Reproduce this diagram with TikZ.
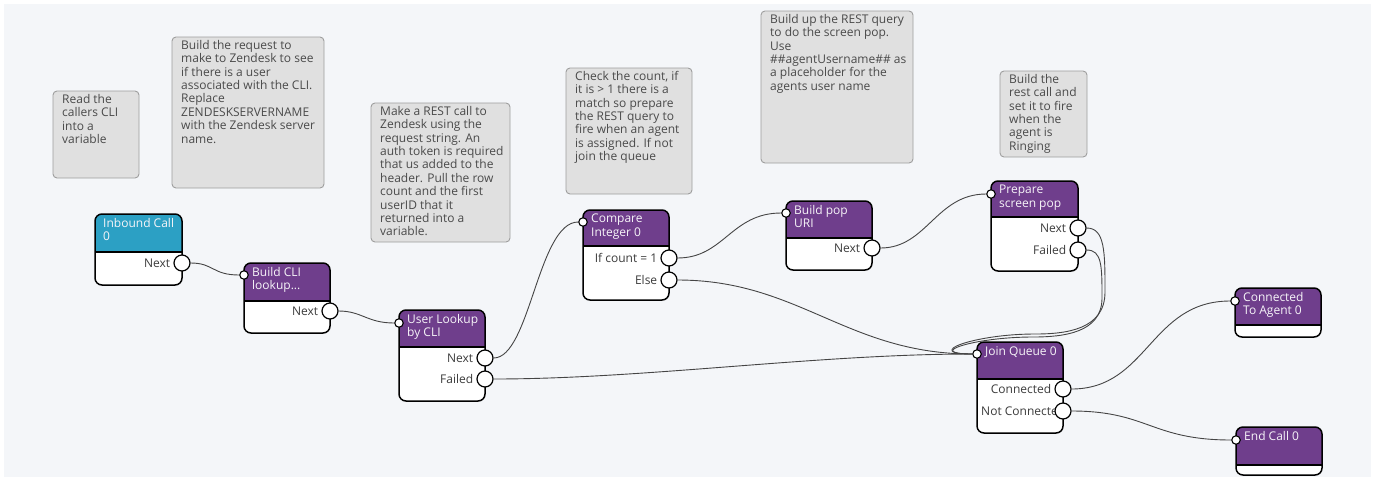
\documentclass[tikz,border=0pt]{standalone}
\usepackage{fontspec}
\setmainfont{Open Sans}
\usetikzlibrary{positioning}

\definecolor{canvas}{HTML}{F4F6F9}
\definecolor{headteal}{RGB}{44,160,196}
\definecolor{headpurple}{RGB}{111,62,140}
\definecolor{notefill}{HTML}{E0E0E0}
\definecolor{noteline}{HTML}{9E9E9E}
\definecolor{notetext}{HTML}{4A4A4A}
\definecolor{labeltext}{HTML}{3C3C3C}
\definecolor{wirecol}{HTML}{454545}

\tikzset{
  note/.style={draw=noteline, fill=notefill, line width=0.9pt, rounded corners=4pt},
  notetxt/.style={anchor=north west, inner sep=0pt, align=left, text=notetext,
    font=\fontsize{12}{13.4}\selectfont},
  title/.style={anchor=north west, inner sep=0pt, align=left, text=white!94!headpurple,
    font=\fontsize{12}{13.4}\selectfont},
  outport/.style={circle, draw=black, fill=white, line width=1.2pt, minimum size=16pt, inner sep=0pt},
  inport/.style={circle, draw=black, fill=white, line width=1.1pt, minimum size=8.5pt, inner sep=0pt},
  portlbl/.style={inner sep=0pt, text=labeltext, font=\fontsize{12}{13}\selectfont},
  wire/.style={draw=wirecol, line width=0.9pt},
}

% flow block: name, x, y, width, height, header height, colour, title
\newcommand{\flowbox}[8]{%
  \fill[white, rounded corners=7pt] (#2,#3) rectangle ++(#4,#5);
  \begin{scope}
    \clip[rounded corners=7pt] (#2,#3) rectangle ++(#4,#5);
    \fill[#7] (#2,#3) rectangle ++(#4,#6);
  \end{scope}
  \draw[line width=1.2pt] (#2,#3+#6) -- ++(#4,0);
  \draw[line width=1.5pt, rounded corners=7pt] (#2,#3) rectangle ++(#4,#5);
  \node[title] (#1) at (#2+8,#3+4) {#8};
}

\begin{document}
\begin{tikzpicture}[x=1pt, y=-1pt]
    \useasboundingbox (0,0) rectangle (1375,477);
    \fill[white] (0,0) rectangle (1375,477);
    \fill[canvas] (4,4) rectangle (1371,477);

    % comment notes
    \draw[note] (53,91) rectangle (139,178);
    \node[notetxt] (note-cli) at (62,94) {Read the\\callers CLI\\into a\\variable};
    \draw[note] (172,37) rectangle (324,188);
    \node[notetxt] (note-request) at (181,40) {Build the request to\\make to Zendesk to see\\if there is a user\\associated with the CLI.\\Replace\\ZENDESKSERVERNAME\\with the Zendesk server\\name.};
    \draw[note] (371,103) rectangle (510,242);
    \node[notetxt] (note-rest) at (380,106) {Make a REST call to\\Zendesk using the\\request string. An\\auth token is required\\that us added to the\\header. Pull the row\\count and the first\\userID that it\\returned into a\\variable.};
    \draw[note] (566,68) rectangle (692,194);
    \node[notetxt] (note-count) at (575,71) {Check the count, if\\it is > 1 there is a\\match so prepare\\the REST query to\\fire when an agent\\is assigned. If not\\join the queue};
    \draw[note] (761,11) rectangle (913,163);
    \node[notetxt] (note-query) at (770,14) {Build up the REST query\\to do the screen pop.\\Use\\\#\#agentUsername\#\# as\\a placeholder for the\\agents user name};
    \draw[note] (1000,71) rectangle (1087,157);
    \node[notetxt] (note-ring) at (1009,74) {Build the\\rest call and\\set it to fire\\when the\\agent is\\Ringing};

    % blocks
    \flowbox{inbound}{95}{214}{87}{71}{38}{headteal}{Inbound Call\\0}
    \flowbox{buildcli}{244}{263}{86}{70}{38}{headpurple}{Build CLI\\lookup...}
    \flowbox{lookup}{399}{310}{86}{91}{37}{headpurple}{User Lookup\\by CLI}
    \flowbox{compare}{583}{210}{86}{90}{36}{headpurple}{Compare\\Integer 0}
    \flowbox{buildpop}{786}{201}{86}{69}{37}{headpurple}{Build pop\\URI}
    \flowbox{prepare}{991}{181}{87}{90}{36}{headpurple}{Prepare\\screen pop}
    \flowbox{joinq}{977}{342}{86}{91}{37}{headpurple}{Join Queue 0}
    \flowbox{agent}{1235}{288}{86}{49}{37}{headpurple}{Connected\\To Agent 0}
    \flowbox{endcall}{1236}{427}{86}{48}{38}{headpurple}{End Call 0}

    % ports
    \node[outport] (inbound-next) at (182,263) {};
    \node[portlbl, left=3pt of inbound-next] (inbound-next-l) {Next};
    \node[inport] (buildcli-in) at (244,275) {};
    \node[outport] (buildcli-next) at (330,311) {};
    \node[portlbl, left=3pt of buildcli-next] (buildcli-next-l) {Next};
    \node[inport] (lookup-in) at (399,323) {};
    \node[outport] (lookup-next) at (485,358) {};
    \node[portlbl, left=3pt of lookup-next] (lookup-next-l) {Next};
    \node[outport] (lookup-fail) at (485,379) {};
    \node[portlbl, left=3pt of lookup-fail] (lookup-fail-l) {Failed};
    \node[inport] (compare-in) at (583,222) {};
    \node[outport] (compare-if) at (669,258) {};
    \node[portlbl, left=3pt of compare-if] (compare-if-l) {If count = 1};
    \node[outport] (compare-else) at (669,280) {};
    \node[portlbl, left=3pt of compare-else] (compare-else-l) {Else};
    \node[inport] (buildpop-in) at (786,213) {};
    \node[outport] (buildpop-next) at (872,248) {};
    \node[portlbl, left=3pt of buildpop-next] (buildpop-next-l) {Next};
    \node[inport] (prepare-in) at (991,194) {};
    \node[outport] (prepare-next) at (1078,228) {};
    \node[portlbl, left=3pt of prepare-next] (prepare-next-l) {Next};
    \node[outport] (prepare-fail) at (1078,250) {};
    \node[portlbl, left=3pt of prepare-fail] (prepare-fail-l) {Failed};
    \node[inport] (joinq-in) at (977,354) {};
    \node[outport] (joinq-conn) at (1063,389) {};
    \node[portlbl, left=3pt of joinq-conn] (joinq-conn-l) {Connected};
    \begin{scope}
      \clip (978,400) rectangle (1054,422);
      \node[portlbl, anchor=west] (joinq-not-l) at (981,411) {Not Connected};
    \end{scope}
    \node[outport] (joinq-not) at (1063,411) {};
    \node[inport] (agent-in) at (1235,301) {};
    \node[inport] (endcall-in) at (1236,440) {};

    % bends of the two loops back into the queue
    \coordinate (loop-a) at (1105,292);
    \coordinate (loop-c) at (1035,334);
    \coordinate (loop-b) at (1102,298);
    \coordinate (loop-d) at (1033,337);

    % wires
    \draw[wire] (inbound-next) .. controls +(32,0) and +(-32,0) .. (buildcli-in);
    \draw[wire] (buildcli-next) .. controls +(32,0) and +(-32,0) .. (lookup-in);
    \draw[wire] (lookup-next) .. controls +(45,0) and +(-45,0) .. (compare-in);
    \draw[wire] (lookup-fail) .. controls +(160,0) and +(-160,0) .. (joinq-in);
    \draw[wire] (compare-if) .. controls +(55,0) and +(-55,0) .. (buildpop-in);
    \draw[wire] (compare-else) .. controls +(130,0) and +(-130,0) .. (joinq-in);
    \draw[wire] (buildpop-next) .. controls +(55,0) and +(-55,0) .. (prepare-in);
    \draw[wire] (prepare-next) .. controls +(27,0) and +(0,-40) .. (loop-a)
        .. controls +(0,38) and +(30,0) .. (loop-c)
        .. controls +(-62,0) and +(-55,0) .. (joinq-in);
    \draw[wire] (prepare-fail) .. controls +(24,0) and +(0,-32) .. (loop-b)
        .. controls +(0,35) and +(30,0) .. (loop-d)
        .. controls +(-60,0) and +(-53,0) .. (joinq-in);
    \draw[wire] (joinq-conn) .. controls +(85,0) and +(-85,0) .. (agent-in);
    \draw[wire] (joinq-not) .. controls +(85,0) and +(-85,0) .. (endcall-in);

\end{tikzpicture}
\end{document}
